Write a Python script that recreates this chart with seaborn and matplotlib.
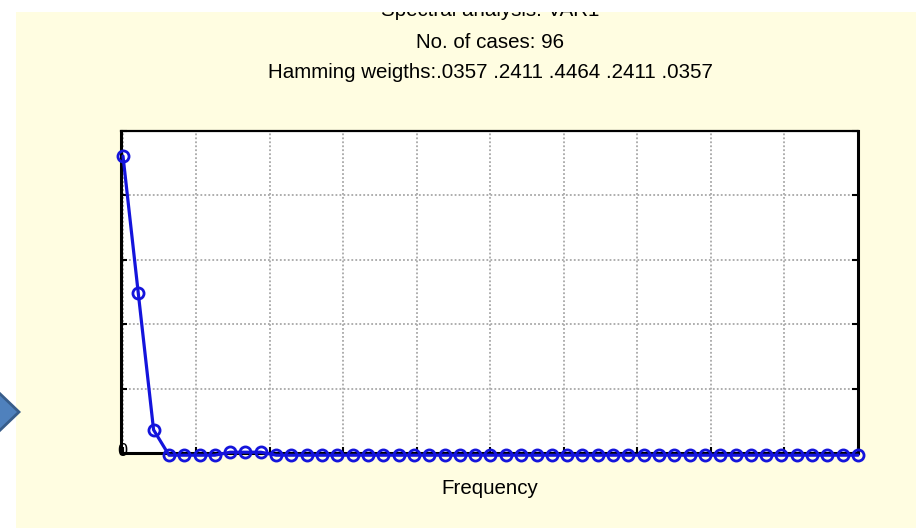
import numpy as np
import pandas as pd
import seaborn as sns
import matplotlib
matplotlib.use("Agg")
import matplotlib.pyplot as plt
from matplotlib.patches import Rectangle, Polygon

# ---- data ----
frequency = [0.0000, 0.0104, 0.0208, 0.0313, 0.0417, 0.0521, 0.0625, 0.0729,
             0.0833, 0.0938, 0.1042, 0.1146, 0.1250, 0.1354, 0.1458, 0.1563,
             0.1667, 0.1771, 0.1875, 0.1979, 0.2083, 0.2188, 0.2292, 0.2396,
             0.2500, 0.2604, 0.2708, 0.2813, 0.2917, 0.3021, 0.3125, 0.3229,
             0.3333, 0.3438, 0.3542, 0.3646, 0.3750, 0.3854, 0.3958, 0.4063,
             0.4167, 0.4271, 0.4375, 0.4479, 0.4583, 0.4688, 0.4792, 0.4896,
             0.5000]
density = [4.61, 2.48, 0.36, -0.034, -0.034, -0.034, -0.034, 0.012,
           0.012, 0.012, -0.034, -0.034, -0.034, -0.034, -0.034, -0.034,
           -0.034, -0.034, -0.034, -0.034, -0.034, -0.034, -0.034, -0.034,
           -0.034, -0.034, -0.034, -0.034, -0.034, -0.034, -0.034, -0.034,
           -0.034, -0.034, -0.034, -0.034, -0.034, -0.034, -0.034, -0.034,
           -0.034, -0.034, -0.034, -0.034, -0.034, -0.034, -0.034, -0.034,
           -0.034]
x_ticks = [0.0, 0.05, 0.10, 0.15, 0.20, 0.25, 0.30, 0.35, 0.40, 0.45, 0.50]
y_ticks = [0, 1, 2, 3, 4, 5]
title_lines = ["Spectral analysis: VAR1", "No. of cases: 96",
               "Hamming weigths:.0357 .2411 .4464 .2411 .0357"]
x_label = "Frequency"

df = pd.DataFrame({"Frequency": frequency, "Density": density})

sns.set_theme(style="white")
plt.rcParams["font.family"] = ["Liberation Sans", "DejaVu Sans"]
plt.rcParams["text.color"] = "black"

W, H = 916, 528
fig = plt.figure(figsize=(W / 100, H / 100), dpi=100)
bg = "#FFFDE1"
fig.patch.set_facecolor(bg)

ax = fig.add_axes([121 / W, 1 - 453 / H, (858 - 121) / W, (453 - 131) / H])
ax.set_facecolor("white")

sns.lineplot(data=df, x="Frequency", y="Density", ax=ax, color="#1414DC",
             linewidth=2.3, marker="o", markersize=8, markerfacecolor="none",
             markeredgecolor="#1414DC", markeredgewidth=2.0, clip_on=False,
             zorder=5)

ax.set_xlim(-0.00136, 0.49966)
ax.set_ylim(0, 5)
ax.set_xticks(x_ticks)
ax.set_yticks(y_ticks)
ax.grid(True, color="#A8A8A8", linestyle=(0, (1, 1.2)), linewidth=1.3)
ax.tick_params(axis="both", direction="in", length=4, width=1.5, colors="black",
               labelbottom=False, labelleft=False, top=False, right=True,
               bottom=True, left=True)
ax.set_xlabel("")
ax.set_ylabel("")
for side, sp in ax.spines.items():
    sp.set_color("black")
    sp.set_linewidth(2.2 if side != "top" else 1.6)
    sp.set_zorder(4)

ax.text(-0.0005, 0.02, "0", ha="center", va="center", fontsize=13, color="black",
        zorder=6, clip_on=False)

# titles
fs = 14.8
fig.text(490 / W, 1 - 11 / H, title_lines[0], ha="center", va="center", fontsize=fs, color="black")
fig.text(490 / W, 1 - 42 / H, title_lines[1], ha="center", va="center", fontsize=fs, color="black")
fig.text(490 / W, 1 - 73 / H, title_lines[2], ha="center", va="center", fontsize=fs, color="black")
fig.text(490 / W, 1 - 489 / H, x_label, ha="center", va="center", fontsize=fs, color="black")

# white page strips (top and left)
fig.patches.append(Rectangle((0, 1 - 12 / H), 1, 12 / H, transform=fig.transFigure,
                             facecolor="white", edgecolor="none", zorder=10))
fig.patches.append(Rectangle((0, 0), 16 / W, 1, transform=fig.transFigure,
                             facecolor="white", edgecolor="none", zorder=10))
# chevron on left edge
chev = [(-5 / W, 1 - 389 / H), (19 / W, 1 - 412 / H), (-5 / W, 1 - 435 / H)]
fig.patches.append(Polygon(chev, closed=True, transform=fig.transFigure,
                           facecolor="#4F81BD", edgecolor="#385D8A", linewidth=2,
                           zorder=11))

fig.savefig("out.png", dpi=100, facecolor=fig.get_facecolor())
